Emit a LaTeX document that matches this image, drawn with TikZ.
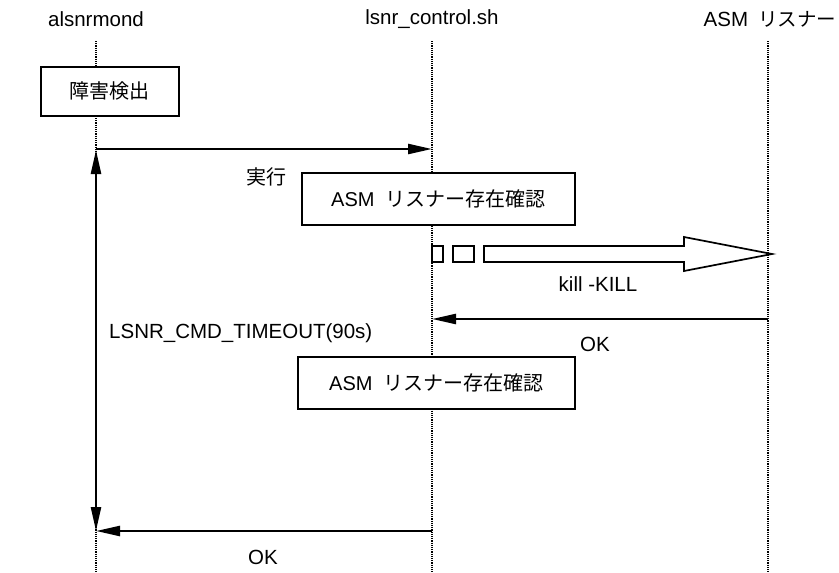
\documentclass[tikz,border=0pt]{standalone}
\usepackage{fontspec}
\setmainfont{Liberation Sans}
\newfontfamily\jp{Noto Sans CJK JP}
\usetikzlibrary{arrows.meta}
\begin{document}
\begin{tikzpicture}[x=1pt,y=-1pt,
  font=\fontsize{20.5}{24}\selectfont,
  lifeline/.style={densely dotted, line width=1.2pt},
  actbox/.style={draw, fill=white, line width=1.7pt, minimum height=52pt, anchor=north west, inner sep=0pt, font=\fontsize{20}{24}\selectfont},
  msg/.style={line width=2.4pt, -{Triangle[length=24pt,width=10pt]}},
  lbl/.style={inner sep=0pt}]
\useasboundingbox (0,0) rectangle (839,573);
% headers
\node[lbl] (hA) at (96,19) {alsnrmond};
\node[lbl] (hB) at (432,19) {lsnr\_control.sh};
\node[lbl] (hC) at (770,19) {ASM\hspace{0.5em}{\fontsize{19.5}{23}\selectfont\jp リスナー}};
% lifeline ends
\coordinate (a0) at (96,41);  \coordinate (a1) at (96,573);
\coordinate (b0) at (432,41); \coordinate (b1) at (432,573);
\coordinate (c0) at (768,41); \coordinate (c1) at (768,573);
\draw[lifeline] (a0) -- (a1);
\draw[lifeline] (b0) -- (b1);
\draw[lifeline] (c0) -- (c1);
% boxes
\node[actbox, minimum width=138pt, minimum height=49pt] (det) at (40,66) {\jp 障害検出};
\node[actbox, minimum width=273pt] (chk1) at (301,172) {ASM\hspace{0.55em}{\jp リスナー存在確認}};
\node[actbox, minimum width=277pt] (chk2) at (297,356) {ASM\hspace{0.55em}{\jp リスナー存在確認}};
% messages
\coordinate (m1s) at (96,149);  \coordinate (m1e) at (432,149);
\draw[msg] (m1s) -- (m1e);
\node[lbl] (exec) at (266,177) {\fontsize{20}{24}\selectfont\jp 実行};
% block arrow
\draw[line width=1.7pt, fill=white] (432,246) rectangle (443,262);
\draw[line width=1.7pt, fill=white] (453,246) rectangle (474,262);
\coordinate (katip) at (772,254);
\draw[line width=1.7pt, fill=white, miter limit=20] (484,246) -- (684,246) -- (684,237) -- (katip) -- (684,271) -- (684,262) -- (484,262) -- cycle;
\node[lbl] (kill) at (598,284) {kill -KILL};
\coordinate (m2s) at (768,319); \coordinate (m2e) at (432,319);
\draw[msg] (m2s) -- (m2e);
\node[lbl] (ok1) at (595,344) {OK};
\coordinate (m3s) at (432,531); \coordinate (m3e) at (96,531);
\draw[msg] (m3s) -- (m3e);
\node[lbl] (ok2) at (263,557) {OK};
% timeout
\coordinate (t0) at (96,150); \coordinate (t1) at (96,531);
\draw[line width=2.4pt, {Triangle[length=24pt,width=10pt]}-{Triangle[length=24pt,width=10pt]}] (t0) -- (t1);
\node[lbl, anchor=west] (tmo) at (109,333) {LSNR\_CMD\_TIMEOUT(90s)};
\end{tikzpicture}
\end{document}
